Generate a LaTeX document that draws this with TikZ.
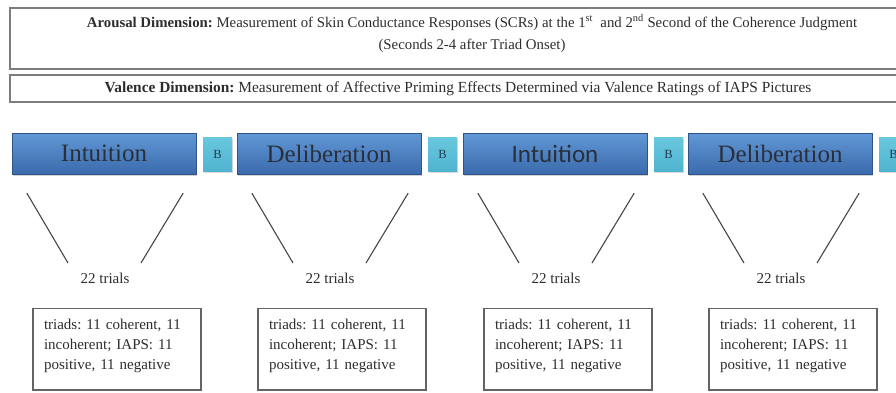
\documentclass[tikz,border=0pt]{standalone}
\usepackage{fontspec}
\setmainfont{Liberation Serif}
\newfontfamily\barsans{Carlito}
\usetikzlibrary{shadows}
\frenchspacing

\definecolor{framegray}{RGB}{125,125,125}
\definecolor{boxgray}{RGB}{100,100,100}
\definecolor{linegray}{RGB}{70,70,70}
\definecolor{textgray}{RGB}{45,45,45}
\definecolor{bartop}{RGB}{98,152,214}
\definecolor{barbottom}{RGB}{58,106,172}
\definecolor{bartext}{RGB}{42,48,58}
\definecolor{breaktop}{RGB}{104,200,222}
\definecolor{breakbottom}{RGB}{80,180,208}
\definecolor{breaktext}{RGB}{35,60,80}

\tikzset{
  dimbox/.style={draw=framegray, line width=1.6pt, inner xsep=0pt, align=center,
    text=textgray, font=\fontsize{14.8}{22}\selectfont},
  phasebar/.style={minimum width=184pt, minimum height=41pt, inner sep=0pt,
    top color=bartop, bottom color=barbottom, draw=barbottom!80!black, line width=0.3pt,
    drop shadow={opacity=0.35, shadow xshift=1pt, shadow yshift=-2pt},
    text=bartext, font=\fontsize{25}{25}\selectfont},
  breakbox/.style={minimum width=29pt, minimum height=34pt, inner sep=0pt,
    top color=breaktop, bottom color=breakbottom,
    drop shadow={opacity=0.3, shadow xshift=1pt, shadow yshift=-2pt},
    text=breaktext, font=\fontsize{12.5}{12.5}\selectfont},
  trialline/.style={draw=linegray, line width=1.1pt},
  trialcount/.style={text=textgray, font=\fontsize{15}{15}\selectfont},
  trialbox/.style={draw=boxgray, line width=1.3pt, anchor=north, align=left,
    text width=146pt, inner xsep=11pt, inner ysep=10pt, text depth=51pt,
    text=textgray, font=\fontsize{15}{20}\selectfont},
}

\begin{document}
\begin{tikzpicture}[x=1pt, y=-1pt]

  \clip (0,0) rectangle (896,392);

  % measurement dimensions
  \node [dimbox, anchor=north, minimum width=924pt, inner ysep=7pt, text depth=13pt] (arousal) at (472,7)
    {\textbf{Arousal Dimension:} Measurement of Skin Conductance Responses (SCRs) at the 1\textsuperscript{st}\ \ and 2\textsuperscript{nd} Second of the Coherence Judgment\\(Seconds 2-4 after Triad Onset)};
  \node [dimbox, minimum width=896pt, minimum height=27pt, inner ysep=0pt,
    font=\fontsize{15.4}{22}\selectfont] (valence) at (458,88.5)
    {\textbf{Valence Dimension:} Measurement of Affective Priming Effects Determined via Valence Ratings of IAPS Pictures};

  % blocks
  \node [phasebar] (intu1) at (104,153.5) {Intuition};
  \node [breakbox] (brk1) at (217.5,154) {B};
  \node [phasebar] (deli1) at (329,153.5) {Deliberation};
  \node [breakbox] (brk2) at (442.5,154) {B};
  \node [phasebar, font=\barsans\fontsize{25}{25}\selectfont] (intu2) at (555,153.5) {Intuition};
  \node [breakbox] (brk3) at (668.5,154) {B};
  \node [phasebar] (deli2) at (780,153.5) {Deliberation};
  \node [breakbox] (brk4) at (893.5,154) {B};

  % trials per block
  \node [trialcount] (trials1) at (105,278) {22 trials};
  \node [trialcount] (trials2) at (330,278) {22 trials};
  \node [trialcount] (trials3) at (556,278) {22 trials};
  \node [trialcount] (trials4) at (781,278) {22 trials};

  \draw [trialline] ([xshift=15pt,yshift=-19pt]intu1.south west) -- ([xshift=-37pt,yshift=15pt]trials1.center);
  \draw [trialline] ([xshift=-13pt,yshift=-19pt]intu1.south east) -- ([xshift=36pt,yshift=15pt]trials1.center);
  \draw [trialline] ([xshift=15pt,yshift=-19pt]deli1.south west) -- ([xshift=-37pt,yshift=15pt]trials2.center);
  \draw [trialline] ([xshift=-13pt,yshift=-19pt]deli1.south east) -- ([xshift=36pt,yshift=15pt]trials2.center);
  \draw [trialline] ([xshift=15pt,yshift=-19pt]intu2.south west) -- ([xshift=-37pt,yshift=15pt]trials3.center);
  \draw [trialline] ([xshift=-13pt,yshift=-19pt]intu2.south east) -- ([xshift=36pt,yshift=15pt]trials3.center);
  \draw [trialline] ([xshift=15pt,yshift=-19pt]deli2.south west) -- ([xshift=-37pt,yshift=15pt]trials4.center);
  \draw [trialline] ([xshift=-13pt,yshift=-19pt]deli2.south east) -- ([xshift=36pt,yshift=15pt]trials4.center);

  % trial composition
  \node [trialbox] (mix1) at (117,308) {triads: 11 coherent, 11\\incoherent; IAPS: 11\\positive, 11 negative};
  \node [trialbox] (mix2) at (342,308) {triads: 11 coherent, 11\\incoherent; IAPS: 11\\positive, 11 negative};
  \node [trialbox] (mix3) at (568,308) {triads: 11 coherent, 11\\incoherent; IAPS: 11\\positive, 11 negative};
  \node [trialbox] (mix4) at (793,308) {triads: 11 coherent, 11\\incoherent; IAPS: 11\\positive, 11 negative};

\end{tikzpicture}
\end{document}
